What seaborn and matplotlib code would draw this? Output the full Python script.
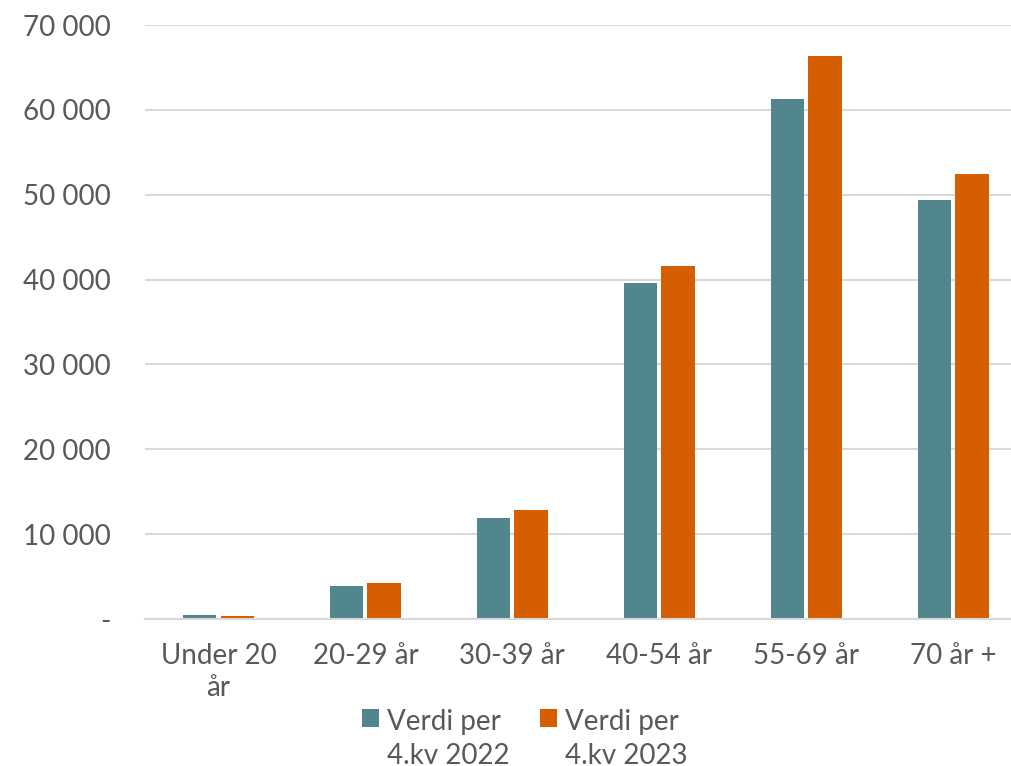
import pandas as pd
import matplotlib
matplotlib.use("Agg")
import matplotlib.pyplot as plt
import seaborn as sns
from matplotlib.ticker import FuncFormatter, MultipleLocator

# Data
age_groups = ["Under 20\når", "20-29 år", "30-39 år", "40-54 år", "55-69 år", "70 år +"]
series_names = ["Verdi per\n4.kv 2022", "Verdi per\n4.kv 2023"]
values_2022 = [450, 3900, 11900, 39600, 61300, 49400]
values_2023 = [400, 4250, 12850, 41600, 66400, 52500]

df = pd.DataFrame({
    "group": age_groups * 2,
    "series": [series_names[0]] * len(age_groups) + [series_names[1]] * len(age_groups),
    "value": values_2022 + values_2023,
})

sns.set_style("white")
plt.rcParams["font.family"] = ["Lato", "DejaVu Sans"]
text_color = "#595959"
palette = {series_names[0]: "#50868C", series_names[1]: "#D55E00"}
fs = 20

fig = plt.figure(figsize=(10.12, 7.66), dpi=100)
ax = fig.add_axes([145 / 1012, 147 / 766, 867 / 1012, 594 / 766])

sns.barplot(data=df, x="group", y="value", hue="series", palette=palette,
            order=age_groups, hue_order=series_names,
            width=0.51, gap=0.11, saturation=1, edgecolor="none", ax=ax)

ax.set_ylim(0, 70000)
ax.set_xlim(-0.5, 5.4)
ax.yaxis.set_major_locator(MultipleLocator(10000))
ax.yaxis.set_major_formatter(FuncFormatter(
    lambda v, p: "-" if v == 0 else f"{int(v):,}".replace(",", " ")))
ax.grid(axis="y", color="#d9d9d9", linewidth=1.5)
ax.set_axisbelow(True)
for side in ["top", "right", "left"]:
    ax.spines[side].set_visible(False)
ax.spines["bottom"].set_color("#d9d9d9")
ax.spines["bottom"].set_linewidth(1.5)
ax.tick_params(axis="both", length=0, labelsize=fs, colors=text_color)
ax.tick_params(axis="y", pad=25)
ax.tick_params(axis="x", pad=17)
for lbl in ax.get_xticklabels():
    lbl.set_linespacing(1.3)
ax.set_xlabel("")
ax.set_ylabel("")

leg = ax.legend(loc="upper center", bbox_to_anchor=(0.438, -0.11), ncol=2,
                frameon=False, fontsize=fs, labelcolor=text_color,
                handlelength=0.6, handleheight=0.6, handletextpad=0.3,
                columnspacing=1.1)
for t in leg.get_texts():
    t.set_linespacing(1.35)
# put the colour square next to the first line of each label
for col in leg._legend_handle_box.get_children():
    for row in col.get_children():
        row.align = "top"

plt.savefig("out.png", dpi=100)
plt.close()
